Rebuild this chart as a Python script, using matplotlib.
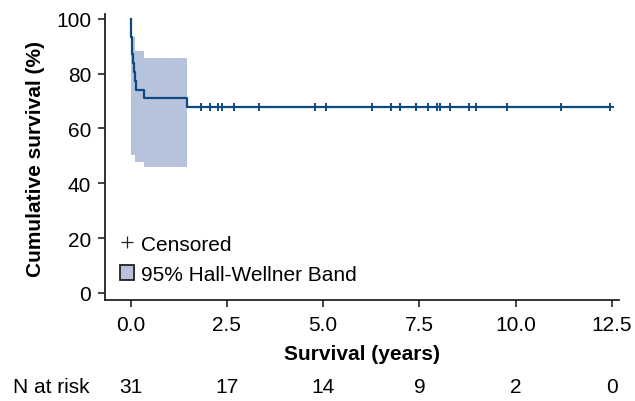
import numpy as np
import matplotlib.pyplot as plt
from matplotlib.lines import Line2D
from matplotlib.patches import Patch
import matplotlib.transforms as mtransforms

plt.rcParams['font.family'] = ['Liberation Sans', 'DejaVu Sans']

# Kaplan-Meier step curve (years, % surviving)
event_times = [0.0, 0.01, 0.02, 0.03, 0.05, 0.07, 0.09, 0.12, 0.14, 0.35, 1.47]
survival = [100.0, 96.8, 93.5, 90.3, 87.1, 83.9, 80.6, 77.4, 74.2, 71.0, 67.7]

# censored observations
censor_times = [1.83, 2.06, 2.27, 2.37, 2.68, 3.33, 4.79, 5.07, 6.28, 6.76, 7.00,
                7.42, 7.73, 7.97, 8.04, 8.30, 8.78, 8.97, 9.79, 11.18, 12.45]

# 95% Hall-Wellner band
band_times = [0.01, 0.11, 0.35, 1.47]
band_upper = [93.3, 88.4, 85.8]
band_lower = [50.4, 47.9, 45.9]

# number at risk table
risk_times = [0.0, 2.5, 5.0, 7.5, 10.0, 12.5]
n_at_risk = [31, 17, 14, 9, 2, 0]

line_col = '#0d4a82'
band_col = '#b7c3dc'
fs = 15

fig = plt.figure(figsize=(6.35, 4.02), dpi=100)
ax = fig.add_axes([0.165, 0.252, 0.81, 0.711])

# band
ax.fill_between(band_times, band_upper + [band_upper[-1]], band_lower + [band_lower[-1]],
                step='post', color=band_col, linewidth=0)

# survival curve
t_curve = event_times + [censor_times[-1]]
s_curve = survival + [survival[-1]]
ax.step(t_curve, s_curve, where='post', color=line_col, lw=1.6)

# censor marks on the curve
idx = np.searchsorted(event_times, censor_times, side='right') - 1
cens_y = [survival[i] for i in idx]
ax.plot(censor_times, cens_y, ls='none', marker='+', ms=6, mew=1.4, color=line_col)

ax.set_xlim(-0.67, 12.69)
ax.set_ylim(-2.45, 101.8)
ax.set_xticks(risk_times)
ax.set_xticklabels(['%.1f' % t for t in risk_times])
ax.set_yticks([0, 20, 40, 60, 80, 100])

for s in ['top', 'right']:
    ax.spines[s].set_visible(False)
for s in ['left', 'bottom']:
    ax.spines[s].set_linewidth(1.3)
    ax.spines[s].set_color('#222222')
ax.tick_params(axis='both', labelsize=fs, width=1.2, length=5.2, color='#222222')
ax.tick_params(axis='x', pad=6)
ax.tick_params(axis='y', pad=4.5)

ax.set_xlabel('Survival (years)', fontsize=fs, fontweight='bold')
ax.xaxis.set_label_coords(0.5, -0.155)
ax.set_ylabel('Cumulative survival (%)', fontsize=fs, fontweight='bold')
ax.yaxis.set_label_coords(-0.117, 0.496)

handles = [Line2D([], [], ls='none', marker='+', ms=9, mew=0.9, color='#222222'),
           Patch(facecolor=band_col, edgecolor='#222222', linewidth=1.3)]
ax.legend(handles, ['Censored', '95% Hall-Wellner Band'], loc='lower left',
          bbox_to_anchor=(0.029, 0.055), frameon=False, fontsize=fs,
          borderpad=0, borderaxespad=0,
          handlelength=0.7, handleheight=0.7, handletextpad=0.3, labelspacing=0.55)

# N at risk row
trans = mtransforms.blended_transform_factory(ax.transData, fig.transFigure)
fig.text(0.02, 0.035, 'N at risk', fontsize=fs, va='center', ha='left')
for t, n in zip(risk_times, n_at_risk):
    ax.text(t, 0.035, str(n), transform=trans, fontsize=fs, va='center', ha='center')

fig.savefig('out.png', dpi=100)
